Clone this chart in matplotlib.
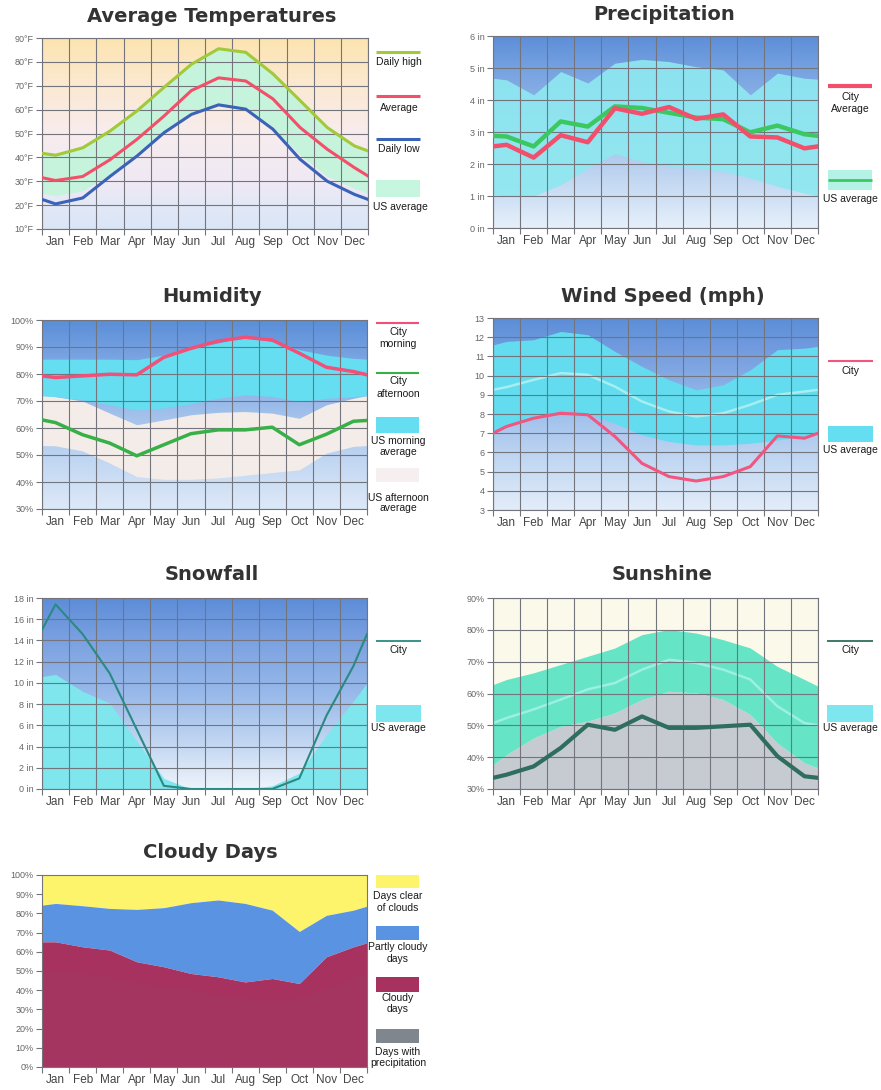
"""
Climate overview: seven monthly panels (temperature, precipitation, humidity,
wind, snowfall, sunshine, cloudy days) with a hand-drawn legend beside each.
"""

import numpy as np
from matplotlib import pyplot as plt
from matplotlib.colors import LinearSegmentedColormap
from matplotlib.patches import Rectangle

W, H = 881, 1090

months = ["Jan", "Feb", "Mar", "Apr", "May", "Jun",
          "Jul", "Aug", "Sep", "Oct", "Nov", "Dec"]
# left edge, month centres, right edge
x_pts = np.array([0.0] + [m + 0.5 for m in range(12)] + [12.0])

# Average temperatures (F)
temp_high = [41.7, 40.9, 44, 51, 59.5, 69.4, 79, 85.5, 84, 75, 63.8, 52.5, 44.8, 42.7]
temp_avg = [31.5, 30.3, 32, 39, 47.6, 57.4, 68, 73.3, 72, 64.5, 52.5, 43.4, 35.7, 32.2]
temp_low = [22.4, 20.5, 23, 32, 40.6, 50.4, 58, 62, 60.2, 51.8, 39.2, 30, 24.5, 22.4]
temp_us_hi = [42.5, 41.5, 45, 52, 60, 70, 79.5, 86, 84.5, 75.5, 64.5, 53, 45.5, 43.5]
temp_us_lo = [25, 24, 26, 33, 42, 51, 58.5, 62, 60.5, 52.5, 41, 32, 27, 25]

# Precipitation (in)
precip_city = [2.55, 2.6, 2.2, 2.9, 2.68, 3.74, 3.57, 3.78, 3.41, 3.55, 2.86, 2.83, 2.49, 2.55]
precip_us = [2.88, 2.86, 2.55, 3.33, 3.17, 3.8, 3.75, 3.6, 3.45, 3.4, 2.99, 3.2, 2.93, 2.88]
precip_us_hi = [4.68, 4.63, 4.16, 4.89, 4.53, 5.15, 5.27, 5.2, 5.04, 4.94, 4.16, 4.84, 4.68, 4.65]
precip_us_lo = [1.04, 1.0, 1.0, 1.35, 1.87, 2.32, 2.08, 1.92, 1.87, 1.77, 1.56, 1.3, 1.09, 1.0]

# Humidity (%)
hum_morning = [79.3, 78.7, 79.3, 79.9, 79.7, 86.2, 89.5, 92.2, 93.6, 92.6, 87.7, 82.5, 80.9, 79.7]
hum_afternoon = [63, 62, 57.5, 54.4, 49.7, 53.8, 57.9, 59.3, 59.3, 60.3, 53.8, 57.7, 62.5, 62.8]
hum_us_morn_hi = [85.5, 85.5, 85.5, 85.5, 85.3, 87, 89.5, 91.5, 93.8, 92, 89, 87, 85.8, 85.5]
hum_us_morn_lo = [72, 71.6, 70.4, 68.6, 66.7, 67.4, 69, 71, 72.3, 71.7, 69.8, 71, 71.6, 72]
hum_us_aft_hi = [72, 71.6, 70, 65.5, 61.2, 63, 64.9, 65.8, 66.1, 65.5, 63.6, 68.6, 71, 72]
hum_us_aft_lo = [53.5, 53.4, 51.5, 47, 42, 41, 41, 41.5, 42.5, 43.5, 44.5, 50.7, 53.2, 53.5]

# Wind speed (mph)
wind_city = [7.0, 7.35, 7.78, 8.04, 7.96, 6.83, 5.43, 4.74, 4.51, 4.74, 5.26, 6.86, 6.74, 7.0]
wind_us = [9.26, 9.4, 9.78, 10.13, 10.04, 9.43, 8.65, 8.13, 7.87, 8.04, 8.48, 9.0, 9.17, 9.26]
wind_us_hi = [11.6, 11.78, 11.87, 12.3, 12.13, 11.26, 10.48, 9.78, 9.26, 9.52, 10.3, 11.35, 11.43, 11.52]
wind_us_lo = [6.91, 7.35, 7.78, 8.13, 8.04, 7.52, 6.91, 6.57, 6.39, 6.39, 6.48, 6.65, 6.83, 7.0]

# Snowfall (in)
snow_city = [15.0, 17.4, 14.6, 10.9, 5.6, 0.3, 0, 0, 0, 0, 1.0, 6.9, 11.6, 14.6]
snow_us = [10.6, 10.8, 9.2, 8.1, 4.5, 1.0, 0, 0, 0, 0.3, 1.5, 5.1, 8.3, 10.0]

# Sunshine (%)
sun_city = [33.5, 34.5, 37.1, 42.9, 50.2, 48.6, 52.8, 49.2, 49.2, 49.7, 50.2, 40.3, 34, 33.5]
sun_us = [50.7, 52.3, 55, 58.1, 61.3, 63.3, 67.5, 70.6, 69.6, 67.5, 64.4, 56, 50.7, 50]
sun_us_hi = [62.8, 64.4, 66.5, 69.1, 71.7, 74.3, 78.5, 80.1, 79, 76.9, 74.3, 68.5, 64.4, 62.3]
sun_us_lo = [37.6, 40.8, 46, 49.7, 51.3, 53.9, 58.1, 60.7, 60.2, 58.1, 53.4, 44.4, 38.2, 36.6]

# Cloudy days (% of days, stacked tops)
cloudy_top = [65.2, 65.2, 62.6, 60.9, 54.8, 52.2, 48.7, 47, 44.3, 46.1, 43.5, 57.4, 62.6, 64.7]
partly_top = [84.3, 85.2, 84, 82.6, 82.1, 83, 85.6, 87, 85.2, 81.7, 70.6, 79, 81.7, 83.8]
precip_days = [50, 50, 49, 47, 44, 42, 40, 38, 36, 35, 36, 41, 47, 49]

plt.rcParams["font.family"] = ["Liberation Sans", "DejaVu Sans"]

GRID = "#74747c"
TEXT = "#1a1a1a"


def px_axes(fig, left, top, right, bottom):
    """按像素位置添加坐标轴"""
    return fig.add_axes([left / W, 1 - bottom / H, (right - left) / W, (bottom - top) / H])


def gradient_bg(ax, stops, ymin, ymax):
    """竖直渐变背景"""
    cmap = LinearSegmentedColormap.from_list("bg", stops)
    ax.imshow(np.linspace(0, 1, 256).reshape(-1, 1), cmap=cmap, origin="lower",
              aspect="auto", extent=[0, 12, ymin, ymax], zorder=0)


def setup_axes(ax, ymin, ymax, step, fmt, grid=True):
    ax.set_xlim(0, 12)
    ax.set_ylim(ymin, ymax)
    ax.set_xticks(range(13))
    ax.set_xticklabels([])
    ax.set_xticks(x_pts[1:-1], minor=True)
    ax.set_xticklabels(months, minor=True)
    ax.tick_params(axis="x", which="major", length=4, color=GRID)
    ax.tick_params(axis="x", which="minor", length=0, pad=5, labelsize=8.5, labelcolor="#444444")
    yt = np.arange(ymin, ymax + step / 2, step)
    ax.set_yticks(yt)
    ax.set_yticklabels([fmt.format(v) for v in yt])
    ax.tick_params(axis="y", length=4, color=GRID, labelsize=6.5, labelcolor="#666666", pad=2)
    for sp in ax.spines.values():
        sp.set_color(GRID)
        sp.set_linewidth(0.8)
    if grid:
        ax.set_axisbelow("line")
        ax.grid(True, which="major", color=GRID, lw=0.8)


def title(fig, xc, y, text):
    fig.text(xc / W, 1 - y / H, text, ha="center", va="center", fontsize=14,
             fontweight="bold", color="#333333", family="DejaVu Sans")


def leg_line(lg, x0, x1, y, color, lw=2.2):
    lg.plot([x0, x1], [y, y], color=color, lw=lw, solid_capstyle="butt")


def leg_box(lg, x0, x1, y0, y1, color):
    lg.add_patch(Rectangle((x0, y0), x1 - x0, y1 - y0, color=color, lw=0))


def leg_text(lg, xc, y, text):
    lg.text(xc, y, text, ha="center", va="center", fontsize=7.5, color=TEXT)


fig = plt.figure(figsize=(W / 100, H / 100), dpi=100)
fig.patch.set_facecolor("white")

lg = fig.add_axes([0, 0, 1, 1])
lg.set_xlim(0, W)
lg.set_ylim(H, 0)
lg.axis("off")

# ---- 1: Average Temperatures
ax = px_axes(fig, 42, 38, 368, 229)
gradient_bg(ax, [(0, "#dae6f6"), (0.12, "#e2e8f6"), (0.22, "#eee9f5"),
                 (0.5, "#f8ecee"), (0.75, "#fbe9d2"), (1, "#fde4b0")], 10, 90)
ax.fill_between(x_pts, temp_us_lo, temp_us_hi, color="#c6f3dc", lw=0, zorder=1)
ax.plot(x_pts, temp_high, color="#a2c93a", lw=2.2, zorder=3)
ax.plot(x_pts, temp_avg, color="#f2506a", lw=2.2, zorder=3)
ax.plot(x_pts, temp_low, color="#3a63b8", lw=2.2, zorder=3)
setup_axes(ax, 10, 90, 10, "{:.0f}°F")
title(fig, 212, 17, "Average Temperatures")
leg_line(lg, 376, 420, 52, "#a2c93a")
leg_text(lg, 399, 62, "Daily high")
leg_line(lg, 376, 420, 96, "#f2506a")
leg_text(lg, 399, 108, "Average")
leg_line(lg, 376, 420, 139, "#3a63b8")
leg_text(lg, 399, 149, "Daily low")
leg_box(lg, 376, 420, 180, 197, "#c6f5e0")
leg_text(lg, 400, 207, "US average")

# ---- 2: Precipitation
ax = px_axes(fig, 493, 36, 818, 228)
gradient_bg(ax, [(0, "#e6f0fa"), (0.2, "#c9dcf3"), (0.5, "#9fbfea"),
                 (0.8, "#7aa5e2"), (1, "#5d8ed8")], 0, 6)
ax.fill_between(x_pts, precip_us_lo, precip_us_hi, color="#8ee8f0", alpha=0.92, lw=0, zorder=1)
ax.plot(x_pts, precip_us, color="#3cc860", lw=3.2, zorder=3)
ax.plot(x_pts, precip_city, color="#f24f6c", lw=3.2, zorder=3)
setup_axes(ax, 0, 6, 1, "{:.0f} in")
title(fig, 664, 15, "Precipitation")
leg_line(lg, 828, 872, 86, "#f24f6c", lw=3)
leg_text(lg, 850, 97, "City")
leg_text(lg, 850, 109, "Average")
leg_box(lg, 828, 872, 170, 190, "#b4f2e6")
leg_line(lg, 828, 872, 180, "#3cc860", lw=2)
leg_text(lg, 850, 199, "US average")

# ---- 3: Humidity
ax = px_axes(fig, 42, 320, 367, 509)
gradient_bg(ax, [(0, "#dde9f8"), (0.25, "#c2d7f2"), (0.55, "#9bbcea"),
                 (0.8, "#7aa4e2"), (1, "#5a8ed8")], 30, 100)
ax.fill_between(x_pts, hum_us_aft_lo, hum_us_aft_hi, color="#f4ece8", lw=0, zorder=1)
ax.fill_between(x_pts, hum_us_morn_lo, hum_us_morn_hi, color="#64def0", lw=0, zorder=1)
ax.plot(x_pts, hum_morning, color="#f25078", lw=2.5, zorder=3)
ax.plot(x_pts, hum_afternoon, color="#38b048", lw=2.5, zorder=3)
setup_axes(ax, 30, 100, 10, "{:.0f}%")
title(fig, 212, 297, "Humidity")
leg_line(lg, 376, 419, 323, "#f25078", lw=1.5)
leg_text(lg, 398, 332, "City")
leg_text(lg, 398, 344, "morning")
leg_line(lg, 376, 419, 373, "#38b048", lw=1.5)
leg_text(lg, 398, 381, "City")
leg_text(lg, 398, 394, "afternoon")
leg_box(lg, 376, 419, 417, 433, "#64def0")
leg_text(lg, 398, 441, "US morning")
leg_text(lg, 398, 452, "average")
leg_box(lg, 376, 419, 468, 482, "#f6efef")
leg_text(lg, 398, 498, "US afternoon")
leg_text(lg, 398, 508, "average")

# ---- 4: Wind Speed
ax = px_axes(fig, 493, 318, 818, 510)
gradient_bg(ax, [(0, "#e2edf9"), (0.25, "#c3d8f3"), (0.55, "#98bbea"),
                 (0.8, "#789fe0"), (1, "#5b8ed8")], 3, 13)
ax.fill_between(x_pts, wind_us_lo, wind_us_hi, color="#62dcee", lw=0, zorder=1)
ax.plot(x_pts, wind_us, color="#a6eef0", lw=1.8, zorder=1.2)
ax.plot(x_pts, wind_city, color="#f25580", lw=2.2, zorder=3)
setup_axes(ax, 3, 13, 1, "{:.0f}")
title(fig, 663, 297, "Wind Speed (mph)")
leg_line(lg, 828, 873, 361, "#f25580", lw=1.5)
leg_text(lg, 850, 371, "City")
leg_box(lg, 828, 873, 426, 442, "#64def0")
leg_text(lg, 850, 450, "US average")

# ---- 5: Snowfall
ax = px_axes(fig, 42, 598, 367, 789)
gradient_bg(ax, [(0, "#eef4fb"), (0.2, "#c9dbf3"), (0.5, "#98b9ea"),
                 (0.8, "#789fe0"), (1, "#5d8dd8")], 0, 18)
ax.fill_between(x_pts, 0, snow_us, color="#7ee6ec", lw=0, zorder=1)
ax.plot(x_pts, snow_city, color="#2a8a82", lw=1.5, zorder=3)
setup_axes(ax, 0, 18, 2, "{:.0f} in")
title(fig, 212, 575, "Snowfall")
leg_line(lg, 376, 421, 641, "#2a8a82", lw=1.3)
leg_text(lg, 398, 650, "City")
leg_box(lg, 376, 421, 705, 722, "#7ee6ee")
leg_text(lg, 398, 728, "US average")

# ---- 6: Sunshine
ax = px_axes(fig, 493, 598, 818, 789)
ax.set_facecolor("#fbf9e9")
ax.fill_between(x_pts, 30, sun_us_lo, color="#c6cad1", lw=0, zorder=1)
ax.fill_between(x_pts, sun_us_lo, sun_us_hi, color="#66e4c6", lw=0, zorder=1)
ax.plot(x_pts, sun_us, color="#9cefe4", lw=1.8, zorder=1.2)
ax.plot(x_pts, sun_city, color="#2f6e5e", lw=3, zorder=3)
setup_axes(ax, 30, 90, 10, "{:.0f}%")
title(fig, 662, 575, "Sunshine")
leg_line(lg, 827, 873, 641, "#2f6e5e", lw=1.3)
leg_text(lg, 850, 650, "City")
leg_box(lg, 827, 873, 705, 722, "#7ee6ee")
leg_text(lg, 850, 728, "US average")

# ---- 7: Cloudy Days
ax = px_axes(fig, 42, 875, 367, 1067)
ax.fill_between(x_pts, partly_top, 100, color="#fdf46c", lw=0, zorder=1)
ax.fill_between(x_pts, cloudy_top, partly_top, color="#5b93e3", lw=0, zorder=1)
ax.fill_between(x_pts, 0, cloudy_top, color="#a8325f", lw=0, zorder=1)
ax.fill_between(x_pts, 0, precip_days, color="#6e6a78", alpha=0.07, lw=0, zorder=1.1)
setup_axes(ax, 0, 100, 10, "{:.0f}%", grid=False)
title(fig, 210, 853, "Cloudy Days")
leg_box(lg, 376, 419, 875, 888, "#fdf46c")
leg_text(lg, 398, 896, "Days clear")
leg_text(lg, 398, 908, "of clouds")
leg_box(lg, 376, 419, 926, 940, "#5b93e3")
leg_text(lg, 398, 947, "Partly cloudy")
leg_text(lg, 398, 959, "days")
leg_box(lg, 376, 419, 977, 992, "#a8325f")
leg_text(lg, 398, 998, "Cloudy")
leg_text(lg, 398, 1009, "days")
leg_box(lg, 376, 419, 1029, 1043, "#80868e")
leg_text(lg, 398, 1052, "Days with")
leg_text(lg, 398, 1063, "precipitation")

fig.savefig("out.png", dpi=100)
